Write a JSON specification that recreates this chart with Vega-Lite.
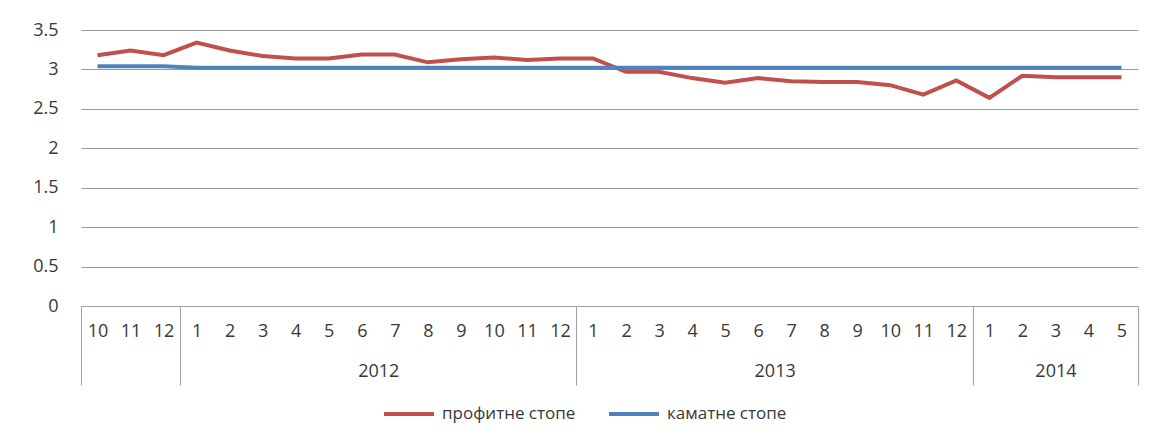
{
  "$schema": "https://vega.github.io/schema/vega-lite/v6.json",
  "autosize": {"type": "none"},
  "width": 1057,
  "height": 276,
  "padding": {"left": 81, "top": 30, "right": 15, "bottom": 124},
  "background": "white",
  "config": {
    "view": {"stroke": null},
    "axis": {"labelFont": "Open Sans", "labelFontSize": 18, "labelColor": "#383838"},
    "legend": {"labelFont": "Open Sans", "labelFontSize": 17, "labelColor": "#383838"}
  },
  "data": {
    "values": [
      {"t": 0, "s": "профитне стопе", "v": 3.18},
      {"t": 1, "s": "профитне стопе", "v": 3.24},
      {"t": 2, "s": "профитне стопе", "v": 3.18},
      {"t": 3, "s": "профитне стопе", "v": 3.34},
      {"t": 4, "s": "профитне стопе", "v": 3.24},
      {"t": 5, "s": "профитне стопе", "v": 3.17},
      {"t": 6, "s": "профитне стопе", "v": 3.14},
      {"t": 7, "s": "профитне стопе", "v": 3.14},
      {"t": 8, "s": "профитне стопе", "v": 3.19},
      {"t": 9, "s": "профитне стопе", "v": 3.19},
      {"t": 10, "s": "профитне стопе", "v": 3.09},
      {"t": 11, "s": "профитне стопе", "v": 3.13},
      {"t": 12, "s": "профитне стопе", "v": 3.15},
      {"t": 13, "s": "профитне стопе", "v": 3.12},
      {"t": 14, "s": "профитне стопе", "v": 3.14},
      {"t": 15, "s": "профитне стопе", "v": 3.14},
      {"t": 16, "s": "профитне стопе", "v": 2.97},
      {"t": 17, "s": "профитне стопе", "v": 2.97},
      {"t": 18, "s": "профитне стопе", "v": 2.89},
      {"t": 19, "s": "профитне стопе", "v": 2.83},
      {"t": 20, "s": "профитне стопе", "v": 2.89},
      {"t": 21, "s": "профитне стопе", "v": 2.85},
      {"t": 22, "s": "профитне стопе", "v": 2.84},
      {"t": 23, "s": "профитне стопе", "v": 2.84},
      {"t": 24, "s": "профитне стопе", "v": 2.80},
      {"t": 25, "s": "профитне стопе", "v": 2.68},
      {"t": 26, "s": "профитне стопе", "v": 2.86},
      {"t": 27, "s": "профитне стопе", "v": 2.64},
      {"t": 28, "s": "профитне стопе", "v": 2.92},
      {"t": 29, "s": "профитне стопе", "v": 2.90},
      {"t": 30, "s": "профитне стопе", "v": 2.90},
      {"t": 31, "s": "профитне стопе", "v": 2.90},
      {"t": 0, "s": "каматне стопе", "v": 3.04},
      {"t": 1, "s": "каматне стопе", "v": 3.04},
      {"t": 2, "s": "каматне стопе", "v": 3.04},
      {"t": 3, "s": "каматне стопе", "v": 3.02},
      {"t": 4, "s": "каматне стопе", "v": 3.02},
      {"t": 5, "s": "каматне стопе", "v": 3.02},
      {"t": 6, "s": "каматне стопе", "v": 3.02},
      {"t": 7, "s": "каматне стопе", "v": 3.02},
      {"t": 8, "s": "каматне стопе", "v": 3.02},
      {"t": 9, "s": "каматне стопе", "v": 3.02},
      {"t": 10, "s": "каматне стопе", "v": 3.02},
      {"t": 11, "s": "каматне стопе", "v": 3.02},
      {"t": 12, "s": "каматне стопе", "v": 3.02},
      {"t": 13, "s": "каматне стопе", "v": 3.02},
      {"t": 14, "s": "каматне стопе", "v": 3.02},
      {"t": 15, "s": "каматне стопе", "v": 3.02},
      {"t": 16, "s": "каматне стопе", "v": 3.02},
      {"t": 17, "s": "каматне стопе", "v": 3.02},
      {"t": 18, "s": "каматне стопе", "v": 3.02},
      {"t": 19, "s": "каматне стопе", "v": 3.02},
      {"t": 20, "s": "каматне стопе", "v": 3.02},
      {"t": 21, "s": "каматне стопе", "v": 3.02},
      {"t": 22, "s": "каматне стопе", "v": 3.02},
      {"t": 23, "s": "каматне стопе", "v": 3.02},
      {"t": 24, "s": "каматне стопе", "v": 3.02},
      {"t": 25, "s": "каматне стопе", "v": 3.02},
      {"t": 26, "s": "каматне стопе", "v": 3.02},
      {"t": 27, "s": "каматне стопе", "v": 3.02},
      {"t": 28, "s": "каматне стопе", "v": 3.02},
      {"t": 29, "s": "каматне стопе", "v": 3.02},
      {"t": 30, "s": "каматне стопе", "v": 3.02},
      {"t": 31, "s": "каматне стопе", "v": 3.02}
    ]
  },
  "layer": [
    {
      "mark": {"type": "line", "strokeWidth": 4},
      "encoding": {
        "x": {
          "field": "t", "type": "quantitative",
          "scale": {"domain": [-0.5, 31.5], "nice": false, "zero": false},
          "axis": {
            "orient": "bottom",
            "title": null, "values": [-0.5, 2.5, 14.5, 26.5, 31.5],
            "labels": false, "ticks": true, "tickSize": 79, "tickColor": "#a0a0a0",
            "domain": true, "domainColor": "#a0a0a0", "grid": false
          }
        },
        "y": {
          "field": "v", "type": "quantitative",
          "scale": {"domain": [0, 3.5], "nice": false},
          "axis": {
            "title": null, "values": [0, 0.5, 1, 1.5, 2, 2.5, 3, 3.5], "format": "~g",
            "domain": false, "ticks": false, "labelPadding": 23,
            "grid": true, "gridColor": "#9a9a9a", "gridWidth": 1
          }
        },
        "color": {
          "field": "s", "type": "nominal",
          "scale": {"domain": ["профитне стопе", "каматне стопе"], "range": ["#C0504D", "#4F81BD"]},
          "legend": {
            "title": null, "orient": "none", "direction": "horizontal",
            "legendX": 301, "legendY": 357,
            "symbolType": "stroke", "symbolSize": 2500, "symbolStrokeWidth": 4,
            "labelOffset": 6, "columnPadding": 25
          }
        }
      }
    },
    {
      "mark": {"type": "point", "opacity": 0},
      "encoding": {
        "x": {
          "field": "t", "type": "quantitative",
          "axis": {
            "orient": "bottom",
            "title": null, "values": [0,1,2,3,4,5,6,7,8,9,10,11,12,13,14,15,16,17,18,19,20,21,22,23,24,25,26,27,28,29,30,31],
            "labelExpr": "'' + (((datum.value + 9) % 12) + 1)",
            "ticks": false, "domain": false, "grid": false,
            "labelPadding": 16, "labelOverlap": false, "labelFlush": false
          }
        }
      }
    },
    {
      "mark": {"type": "point", "opacity": 0},
      "encoding": {
        "x": {
          "field": "t", "type": "quantitative",
          "axis": {
            "orient": "bottom",
            "title": null, "values": [8.5, 20.5, 29],
            "labelExpr": "datum.value == 8.5 ? '2012' : datum.value == 20.5 ? '2013' : '2014'",
            "ticks": false, "domain": false, "grid": false,
            "labelPadding": 56, "labelOverlap": false, "labelFlush": false
          }
        }
      }
    }
  ],
  "resolve": {"axis": {"x": "independent"}}
}
